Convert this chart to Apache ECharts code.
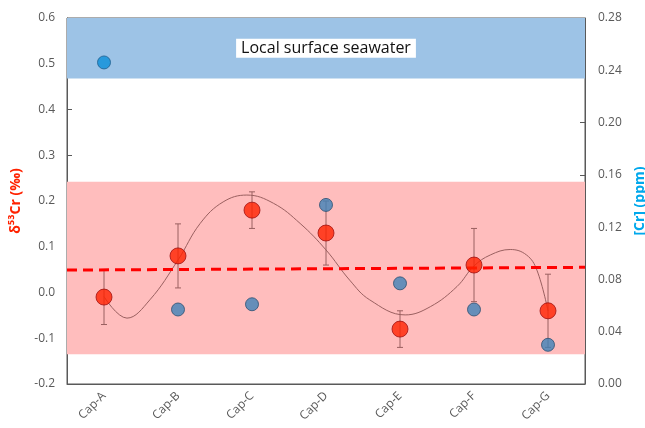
<!DOCTYPE html>
<html>
<head>
<meta charset="utf-8">
<script src="https://cdn.jsdelivr.net/npm/echarts@6/dist/echarts.min.js"></script>
<style>
  html, body { margin: 0; padding: 0; background: #fff; }
  #main { width: 645px; height: 428px; }
</style>
</head>
<body>
<div id="main"></div>
<script>
var chartDom = document.getElementById('main');
var myChart = echarts.init(chartDom);
var option;

const categories = ['Cap-A', 'Cap-B', 'Cap-C', 'Cap-D', 'Cap-E', 'Cap-F', 'Cap-G'];
// d53Cr values and error
const d53Cr = [-0.01, 0.08, 0.18, 0.13, -0.08, 0.06, -0.04];
const d53CrErr = [0.06, 0.07, 0.04, 0.07, 0.04, 0.08, 0.08];
// [Cr] ppm
const crPpm = [0.246, 0.057, 0.061, 0.137, 0.077, 0.057, 0.030];
// fitted curve, x = category index
const curveX = [0, 0.31, 0.62, 1.0, 1.3, 1.61, 1.93, 2.29, 2.65, 3.0, 3.32, 3.59, 4.07, 4.41, 4.77, 5.0, 5.22, 5.49, 5.71, 5.85, 6.0];
const curveY = [-0.009, -0.056, -0.016, 0.071, 0.151, 0.198, 0.213, 0.195, 0.151, 0.093, 0.027, -0.016, -0.049, -0.031, 0.013, 0.058, 0.082, 0.094, 0.082, 0.049, -0.04];
// dashed mean line
const meanX = [-0.5, 6.5];
const meanY = [0.049, 0.055];
// bands on the d53Cr axis
const seawaterBand = [0.468, 0.6];
const rockBand = [-0.135, 0.242];

const tickColor = '#595959';
const font = 'Open Sans';

option = {
  animation: false,
  grid: {
    left: 67,
    right: 60,
    top: 18,
    bottom: 44,
    outerBoundsMode: 'none',
    containLabel: false,
    show: true,
    borderColor: '#595959',
    borderWidth: 1
  },
  xAxis: [
    {
      type: 'category',
      data: categories,
      boundaryGap: true,
      axisLine: { onZero: false, lineStyle: { color: '#595959' } },
      axisTick: { inside: true, length: 5, lineStyle: { color: '#595959' } },
      axisLabel: { rotate: 45, color: tickColor, fontFamily: font, fontSize: 12, margin: 10 },
      splitLine: { show: false }
    },
    {
      type: 'value',
      min: -0.5,
      max: 6.5,
      show: false
    }
  ],
  yAxis: [
    {
      type: 'value',
      min: -0.2,
      max: 0.6,
      interval: 0.1,
      name: 'δ⁵³Cr (‰)',
      nameLocation: 'middle',
      nameGap: 39,
      nameTextStyle: { color: '#FF2200', fontWeight: 'bold', fontSize: 14, fontFamily: font },
      axisLine: { show: true, onZero: false, lineStyle: { color: '#595959' } },
      axisTick: { show: true, inside: true, length: 5, lineStyle: { color: '#595959' } },
      axisLabel: { color: tickColor, fontFamily: font, fontSize: 12, margin: 12, formatter: function (v) { return v.toFixed(1); } },
      splitLine: { show: false }
    },
    {
      type: 'value',
      min: 0,
      max: 0.28,
      interval: 0.04,
      position: 'right',
      name: '[Cr] (ppm)',
      nameLocation: 'middle',
      nameGap: 47,
      nameRotate: 90,
      nameTextStyle: { color: '#00A8EC', fontWeight: 'bold', fontSize: 14, fontFamily: font },
      axisLine: { show: true, onZero: false, lineStyle: { color: '#595959' } },
      axisTick: { show: true, inside: true, length: 5, lineStyle: { color: '#595959' } },
      axisLabel: { color: tickColor, fontFamily: font, fontSize: 12, margin: 13, formatter: function (v) { return v.toFixed(2); } },
      splitLine: { show: false }
    }
  ],
  series: [
    {
      name: 'bands',
      type: 'line',
      xAxisIndex: 1,
      yAxisIndex: 0,
      data: [],
      markArea: {
        silent: true,
        data: [
          [
            {
              yAxis: seawaterBand[0],
              itemStyle: { color: '#9DC3E6' },
              label: {
                show: true,
                position: 'inside',
                formatter: 'Local surface seawater',
                color: '#111',
                fontFamily: font,
                fontSize: 16,
                backgroundColor: '#fff',
                padding: [2, 5, 1, 5]
              }
            },
            { yAxis: seawaterBand[1] }
          ],
          [
            { yAxis: rockBand[0], itemStyle: { color: '#FFBDBD' } },
            { yAxis: rockBand[1] }
          ]
        ]
      }
    },
    {
      name: 'fit',
      type: 'line',
      xAxisIndex: 1,
      yAxisIndex: 0,
      smooth: 0.4,
      symbol: 'none',
      lineStyle: { color: '#9A6060', width: 1 },
      data: curveX.map(function (x, i) { return [x, curveY[i]]; }),
      z: 3
    },
    {
      name: 'error',
      type: 'custom',
      xAxisIndex: 0,
      yAxisIndex: 0,
      data: d53Cr.map(function (v, i) { return [i, v - d53CrErr[i], v + d53CrErr[i]]; }),
      renderItem: function (params, api) {
        var lo = api.coord([api.value(0), api.value(1)]);
        var hi = api.coord([api.value(0), api.value(2)]);
        var cap = 3;
        var style = { stroke: '#9A6060', lineWidth: 1 };
        return {
          type: 'group',
          children: [
            { type: 'line', shape: { x1: lo[0], y1: lo[1], x2: hi[0], y2: hi[1] }, style: style },
            { type: 'line', shape: { x1: lo[0] - cap, y1: lo[1], x2: lo[0] + cap, y2: lo[1] }, style: style },
            { type: 'line', shape: { x1: hi[0] - cap, y1: hi[1], x2: hi[0] + cap, y2: hi[1] }, style: style }
          ]
        };
      },
      z: 4
    },
    {
      name: 'mean',
      type: 'line',
      xAxisIndex: 1,
      yAxisIndex: 0,
      symbol: 'none',
      lineStyle: { color: '#FF0000', width: 3, type: [10, 6] },
      data: meanX.map(function (x, i) { return [x, meanY[i]]; }),
      z: 5
    },
    {
      name: '[Cr]',
      type: 'scatter',
      xAxisIndex: 0,
      yAxisIndex: 1,
      symbolSize: 13,
      data: crPpm.map(function (v, i) {
        return {
          value: v,
          itemStyle: i === 0 ? { color: '#0A8FDA', borderColor: '#1F5F8F' } : { color: '#3F82B8', borderColor: '#2A4F70' }
        };
      }),
      itemStyle: { borderWidth: 1 },
      z: 6
    },
    {
      name: 'd53Cr',
      type: 'scatter',
      xAxisIndex: 0,
      yAxisIndex: 0,
      symbolSize: 16,
      data: d53Cr,
      itemStyle: { color: '#FF2200', borderColor: '#A01010', borderWidth: 1 },
      z: 7
    }
  ]
};

option && myChart.setOption(option);
</script>
</body>
</html>
